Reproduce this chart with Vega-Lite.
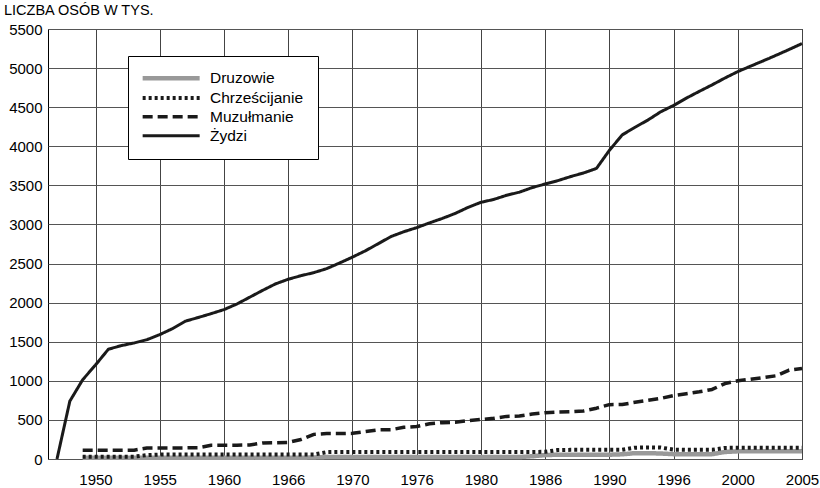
{
  "$schema": "https://vega.github.io/schema/vega-lite/v6.json",
  "width": 754,
  "height": 430,
  "autosize": "none",
  "padding": {"left": 48, "top": 29, "right": 18, "bottom": 29},
  "background": "white",
  "title": {"text": "LICZBA OSÓB W TYS.", "anchor": "start", "frame": "group", "dx": -44, "offset": 4, "fontSize": 14.5, "fontWeight": "normal", "font": "Liberation Sans", "color": "black"},
  "config": {"view": {"stroke": "black", "strokeWidth": 1}, "font": "Liberation Sans"},
  "data": {"values": [
    {"rok":1949,"grupa":"Druzowie","liczba":15},{"rok":1950,"grupa":"Druzowie","liczba":15},{"rok":1951,"grupa":"Druzowie","liczba":15},{"rok":1952,"grupa":"Druzowie","liczba":15},{"rok":1953,"grupa":"Druzowie","liczba":15},{"rok":1954,"grupa":"Druzowie","liczba":15},{"rok":1955,"grupa":"Druzowie","liczba":15},{"rok":1956,"grupa":"Druzowie","liczba":15},{"rok":1957,"grupa":"Druzowie","liczba":15},{"rok":1958,"grupa":"Druzowie","liczba":15},{"rok":1959,"grupa":"Druzowie","liczba":15},{"rok":1960,"grupa":"Druzowie","liczba":15},{"rok":1961,"grupa":"Druzowie","liczba":15},{"rok":1962,"grupa":"Druzowie","liczba":15},{"rok":1963,"grupa":"Druzowie","liczba":15},{"rok":1964,"grupa":"Druzowie","liczba":15},{"rok":1965,"grupa":"Druzowie","liczba":15},{"rok":1966,"grupa":"Druzowie","liczba":15},{"rok":1967,"grupa":"Druzowie","liczba":20},{"rok":1968,"grupa":"Druzowie","liczba":25},{"rok":1969,"grupa":"Druzowie","liczba":25},{"rok":1970,"grupa":"Druzowie","liczba":25},{"rok":1971,"grupa":"Druzowie","liczba":25},{"rok":1972,"grupa":"Druzowie","liczba":25},{"rok":1973,"grupa":"Druzowie","liczba":25},{"rok":1974,"grupa":"Druzowie","liczba":25},{"rok":1975,"grupa":"Druzowie","liczba":25},{"rok":1976,"grupa":"Druzowie","liczba":25},{"rok":1977,"grupa":"Druzowie","liczba":25},{"rok":1978,"grupa":"Druzowie","liczba":25},{"rok":1979,"grupa":"Druzowie","liczba":25},{"rok":1980,"grupa":"Druzowie","liczba":25},{"rok":1981,"grupa":"Druzowie","liczba":25},{"rok":1982,"grupa":"Druzowie","liczba":25},{"rok":1983,"grupa":"Druzowie","liczba":25},{"rok":1984,"grupa":"Druzowie","liczba":35},{"rok":1985,"grupa":"Druzowie","liczba":50},{"rok":1986,"grupa":"Druzowie","liczba":55},{"rok":1987,"grupa":"Druzowie","liczba":55},{"rok":1988,"grupa":"Druzowie","liczba":55},{"rok":1989,"grupa":"Druzowie","liczba":55},{"rok":1990,"grupa":"Druzowie","liczba":55},{"rok":1991,"grupa":"Druzowie","liczba":60},{"rok":1992,"grupa":"Druzowie","liczba":75},{"rok":1993,"grupa":"Druzowie","liczba":75},{"rok":1994,"grupa":"Druzowie","liczba":70},{"rok":1995,"grupa":"Druzowie","liczba":62},{"rok":1996,"grupa":"Druzowie","liczba":62},{"rok":1997,"grupa":"Druzowie","liczba":62},{"rok":1998,"grupa":"Druzowie","liczba":62},{"rok":1999,"grupa":"Druzowie","liczba":90},{"rok":2000,"grupa":"Druzowie","liczba":98},{"rok":2001,"grupa":"Druzowie","liczba":98},{"rok":2002,"grupa":"Druzowie","liczba":98},{"rok":2003,"grupa":"Druzowie","liczba":98},{"rok":2004,"grupa":"Druzowie","liczba":98},{"rok":2005,"grupa":"Druzowie","liczba":98},
    {"rok":1949,"grupa":"Chrześcijanie","liczba":30},{"rok":1950,"grupa":"Chrześcijanie","liczba":30},{"rok":1951,"grupa":"Chrześcijanie","liczba":30},{"rok":1952,"grupa":"Chrześcijanie","liczba":30},{"rok":1953,"grupa":"Chrześcijanie","liczba":30},{"rok":1954,"grupa":"Chrześcijanie","liczba":50},{"rok":1955,"grupa":"Chrześcijanie","liczba":57},{"rok":1956,"grupa":"Chrześcijanie","liczba":57},{"rok":1957,"grupa":"Chrześcijanie","liczba":57},{"rok":1958,"grupa":"Chrześcijanie","liczba":57},{"rok":1959,"grupa":"Chrześcijanie","liczba":57},{"rok":1960,"grupa":"Chrześcijanie","liczba":57},{"rok":1961,"grupa":"Chrześcijanie","liczba":57},{"rok":1962,"grupa":"Chrześcijanie","liczba":57},{"rok":1963,"grupa":"Chrześcijanie","liczba":57},{"rok":1964,"grupa":"Chrześcijanie","liczba":57},{"rok":1965,"grupa":"Chrześcijanie","liczba":57},{"rok":1966,"grupa":"Chrześcijanie","liczba":57},{"rok":1967,"grupa":"Chrześcijanie","liczba":57},{"rok":1968,"grupa":"Chrześcijanie","liczba":88},{"rok":1969,"grupa":"Chrześcijanie","liczba":90},{"rok":1970,"grupa":"Chrześcijanie","liczba":90},{"rok":1971,"grupa":"Chrześcijanie","liczba":90},{"rok":1972,"grupa":"Chrześcijanie","liczba":90},{"rok":1973,"grupa":"Chrześcijanie","liczba":90},{"rok":1974,"grupa":"Chrześcijanie","liczba":90},{"rok":1975,"grupa":"Chrześcijanie","liczba":90},{"rok":1976,"grupa":"Chrześcijanie","liczba":90},{"rok":1977,"grupa":"Chrześcijanie","liczba":90},{"rok":1978,"grupa":"Chrześcijanie","liczba":90},{"rok":1979,"grupa":"Chrześcijanie","liczba":90},{"rok":1980,"grupa":"Chrześcijanie","liczba":90},{"rok":1981,"grupa":"Chrześcijanie","liczba":90},{"rok":1982,"grupa":"Chrześcijanie","liczba":90},{"rok":1983,"grupa":"Chrześcijanie","liczba":90},{"rok":1984,"grupa":"Chrześcijanie","liczba":90},{"rok":1985,"grupa":"Chrześcijanie","liczba":92},{"rok":1986,"grupa":"Chrześcijanie","liczba":115},{"rok":1987,"grupa":"Chrześcijanie","liczba":117},{"rok":1988,"grupa":"Chrześcijanie","liczba":117},{"rok":1989,"grupa":"Chrześcijanie","liczba":117},{"rok":1990,"grupa":"Chrześcijanie","liczba":117},{"rok":1991,"grupa":"Chrześcijanie","liczba":117},{"rok":1992,"grupa":"Chrześcijanie","liczba":145},{"rok":1993,"grupa":"Chrześcijanie","liczba":148},{"rok":1994,"grupa":"Chrześcijanie","liczba":146},{"rok":1995,"grupa":"Chrześcijanie","liczba":120},{"rok":1996,"grupa":"Chrześcijanie","liczba":118},{"rok":1997,"grupa":"Chrześcijanie","liczba":118},{"rok":1998,"grupa":"Chrześcijanie","liczba":118},{"rok":1999,"grupa":"Chrześcijanie","liczba":142},{"rok":2000,"grupa":"Chrześcijanie","liczba":143},{"rok":2001,"grupa":"Chrześcijanie","liczba":143},{"rok":2002,"grupa":"Chrześcijanie","liczba":143},{"rok":2003,"grupa":"Chrześcijanie","liczba":143},{"rok":2004,"grupa":"Chrześcijanie","liczba":143},{"rok":2005,"grupa":"Chrześcijanie","liczba":143},
    {"rok":1949,"grupa":"Muzułmanie","liczba":112},{"rok":1950,"grupa":"Muzułmanie","liczba":112},{"rok":1951,"grupa":"Muzułmanie","liczba":112},{"rok":1952,"grupa":"Muzułmanie","liczba":112},{"rok":1953,"grupa":"Muzułmanie","liczba":113},{"rok":1954,"grupa":"Muzułmanie","liczba":140},{"rok":1955,"grupa":"Muzułmanie","liczba":141},{"rok":1956,"grupa":"Muzułmanie","liczba":142},{"rok":1957,"grupa":"Muzułmanie","liczba":142},{"rok":1958,"grupa":"Muzułmanie","liczba":145},{"rok":1959,"grupa":"Muzułmanie","liczba":175},{"rok":1960,"grupa":"Muzułmanie","liczba":176},{"rok":1961,"grupa":"Muzułmanie","liczba":177},{"rok":1962,"grupa":"Muzułmanie","liczba":180},{"rok":1963,"grupa":"Muzułmanie","liczba":205},{"rok":1964,"grupa":"Muzułmanie","liczba":207},{"rok":1965,"grupa":"Muzułmanie","liczba":212},{"rok":1966,"grupa":"Muzułmanie","liczba":250},{"rok":1967,"grupa":"Muzułmanie","liczba":315},{"rok":1968,"grupa":"Muzułmanie","liczba":325},{"rok":1969,"grupa":"Muzułmanie","liczba":325},{"rok":1970,"grupa":"Muzułmanie","liczba":328},{"rok":1971,"grupa":"Muzułmanie","liczba":350},{"rok":1972,"grupa":"Muzułmanie","liczba":372},{"rok":1973,"grupa":"Muzułmanie","liczba":375},{"rok":1974,"grupa":"Muzułmanie","liczba":405},{"rok":1975,"grupa":"Muzułmanie","liczba":415},{"rok":1976,"grupa":"Muzułmanie","liczba":450},{"rok":1977,"grupa":"Muzułmanie","liczba":465},{"rok":1978,"grupa":"Muzułmanie","liczba":470},{"rok":1979,"grupa":"Muzułmanie","liczba":490},{"rok":1980,"grupa":"Muzułmanie","liczba":505},{"rok":1981,"grupa":"Muzułmanie","liczba":520},{"rok":1982,"grupa":"Muzułmanie","liczba":545},{"rok":1983,"grupa":"Muzułmanie","liczba":550},{"rok":1984,"grupa":"Muzułmanie","liczba":575},{"rok":1985,"grupa":"Muzułmanie","liczba":592},{"rok":1986,"grupa":"Muzułmanie","liczba":600},{"rok":1987,"grupa":"Muzułmanie","liczba":605},{"rok":1988,"grupa":"Muzułmanie","liczba":615},{"rok":1989,"grupa":"Muzułmanie","liczba":650},{"rok":1990,"grupa":"Muzułmanie","liczba":695},{"rok":1991,"grupa":"Muzułmanie","liczba":697},{"rok":1992,"grupa":"Muzułmanie","liczba":725},{"rok":1993,"grupa":"Muzułmanie","liczba":750},{"rok":1994,"grupa":"Muzułmanie","liczba":775},{"rok":1995,"grupa":"Muzułmanie","liczba":812},{"rok":1996,"grupa":"Muzułmanie","liczba":835},{"rok":1997,"grupa":"Muzułmanie","liczba":860},{"rok":1998,"grupa":"Muzułmanie","liczba":890},{"rok":1999,"grupa":"Muzułmanie","liczba":965},{"rok":2000,"grupa":"Muzułmanie","liczba":1000},{"rok":2001,"grupa":"Muzułmanie","liczba":1020},{"rok":2002,"grupa":"Muzułmanie","liczba":1042},{"rok":2003,"grupa":"Muzułmanie","liczba":1065},{"rok":2004,"grupa":"Muzułmanie","liczba":1138},{"rok":2005,"grupa":"Muzułmanie","liczba":1158},
    {"rok":1947,"grupa":"Żydzi","liczba":0},{"rok":1948,"grupa":"Żydzi","liczba":740},{"rok":1949,"grupa":"Żydzi","liczba":1014},{"rok":1950,"grupa":"Żydzi","liczba":1203},{"rok":1951,"grupa":"Żydzi","liczba":1404},{"rok":1952,"grupa":"Żydzi","liczba":1450},{"rok":1953,"grupa":"Żydzi","liczba":1484},{"rok":1954,"grupa":"Żydzi","liczba":1526},{"rok":1955,"grupa":"Żydzi","liczba":1591},{"rok":1956,"grupa":"Żydzi","liczba":1668},{"rok":1957,"grupa":"Żydzi","liczba":1763},{"rok":1958,"grupa":"Żydzi","liczba":1810},{"rok":1959,"grupa":"Żydzi","liczba":1859},{"rok":1960,"grupa":"Żydzi","liczba":1911},{"rok":1961,"grupa":"Żydzi","liczba":1982},{"rok":1962,"grupa":"Żydzi","liczba":2069},{"rok":1963,"grupa":"Żydzi","liczba":2156},{"rok":1964,"grupa":"Żydzi","liczba":2239},{"rok":1965,"grupa":"Żydzi","liczba":2299},{"rok":1966,"grupa":"Żydzi","liczba":2345},{"rok":1967,"grupa":"Żydzi","liczba":2384},{"rok":1968,"grupa":"Żydzi","liczba":2435},{"rok":1969,"grupa":"Żydzi","liczba":2507},{"rok":1970,"grupa":"Żydzi","liczba":2582},{"rok":1971,"grupa":"Żydzi","liczba":2662},{"rok":1972,"grupa":"Żydzi","liczba":2753},{"rok":1973,"grupa":"Żydzi","liczba":2845},{"rok":1974,"grupa":"Żydzi","liczba":2907},{"rok":1975,"grupa":"Żydzi","liczba":2959},{"rok":1976,"grupa":"Żydzi","liczba":3020},{"rok":1977,"grupa":"Żydzi","liczba":3077},{"rok":1978,"grupa":"Żydzi","liczba":3141},{"rok":1979,"grupa":"Żydzi","liczba":3218},{"rok":1980,"grupa":"Żydzi","liczba":3283},{"rok":1981,"grupa":"Żydzi","liczba":3320},{"rok":1982,"grupa":"Żydzi","liczba":3373},{"rok":1983,"grupa":"Żydzi","liczba":3413},{"rok":1984,"grupa":"Żydzi","liczba":3472},{"rok":1985,"grupa":"Żydzi","liczba":3517},{"rok":1986,"grupa":"Żydzi","liczba":3561},{"rok":1987,"grupa":"Żydzi","liczba":3613},{"rok":1988,"grupa":"Żydzi","liczba":3659},{"rok":1989,"grupa":"Żydzi","liczba":3717},{"rok":1990,"grupa":"Żydzi","liczba":3947},{"rok":1991,"grupa":"Żydzi","liczba":4145},{"rok":1992,"grupa":"Żydzi","liczba":4243},{"rok":1993,"grupa":"Żydzi","liczba":4335},{"rok":1994,"grupa":"Żydzi","liczba":4441},{"rok":1995,"grupa":"Żydzi","liczba":4522},{"rok":1996,"grupa":"Żydzi","liczba":4616},{"rok":1997,"grupa":"Żydzi","liczba":4702},{"rok":1998,"grupa":"Żydzi","liczba":4785},{"rok":1999,"grupa":"Żydzi","liczba":4873},{"rok":2000,"grupa":"Żydzi","liczba":4955},{"rok":2001,"grupa":"Żydzi","liczba":5025},{"rok":2002,"grupa":"Żydzi","liczba":5094},{"rok":2003,"grupa":"Żydzi","liczba":5165},{"rok":2004,"grupa":"Żydzi","liczba":5238},{"rok":2005,"grupa":"Żydzi","liczba":5314}
  ]},
  "mark": {"type": "line", "strokeCap": "butt", "strokeJoin": "round"},
  "encoding": {
    "x": {"field": "rok", "type": "quantitative",
      "scale": {"domain": [1946.3, 2005], "nice": false, "zero": false},
      "axis": {"title": null, "values": [1950,1955,1960,1965,1970,1975,1980,1985,1990,1995,2000,2005],
        "labelExpr": "datum.value == 1965 ? '1966' : datum.value == 1975 ? '1976' : datum.value == 1985 ? '1986' : datum.value == 1995 ? '1996' : datum.label",
        "format": "d", "grid": true, "gridColor": "#444", "gridWidth": 1, "gridOpacity": 1, "ticks": false, "domain": false,
        "labelFontSize": 15, "labelColor": "black", "labelFont": "Liberation Sans", "labelPadding": 13, "labelFlush": false, "labelOverlap": false, "labelBound": false}},
    "y": {"field": "liczba", "type": "quantitative",
      "scale": {"domain": [0, 5500], "nice": false},
      "axis": {"title": null, "values": [0,500,1000,1500,2000,2500,3000,3500,4000,4500,5000,5500], "format": "d",
        "grid": true, "gridColor": "#555", "gridWidth": 1, "gridOpacity": 1, "ticks": false, "domain": false,
        "labelFontSize": 15, "labelColor": "black", "labelFont": "Liberation Sans", "labelPadding": 6, "labelFlush": false, "labelOverlap": false, "labelBound": false}},
    "color": {"field": "grupa", "type": "nominal",
      "scale": {"domain": ["Druzowie","Chrześcijanie","Muzułmanie","Żydzi"], "range": ["#999999","#1a1a1a","#1a1a1a","#1a1a1a"]},
      "legend": {"orient": "none", "legendX": 80, "legendY": 27, "title": null, "strokeColor": "black", "fillColor": "white",
        "padding": 14.5, "symbolType": "M-1.6,0H10.4", "symbolSize": 90.25, "labelFontSize": 15.5, "labelFont": "Liberation Sans", "labelColor": "black", "labelOffset": 52, "rowPadding": 1.8}},
    "strokeDash": {"field": "grupa", "type": "nominal",
      "scale": {"domain": ["Druzowie","Chrześcijanie","Muzułmanie","Żydzi"], "range": [[1,0],[3,3],[10,5],[1,0]]}},
    "strokeWidth": {"field": "grupa", "type": "nominal",
      "scale": {"domain": ["Druzowie","Chrześcijanie","Muzułmanie","Żydzi"], "range": [4.5, 3, 2.5, 2.5]}}
  }
}
